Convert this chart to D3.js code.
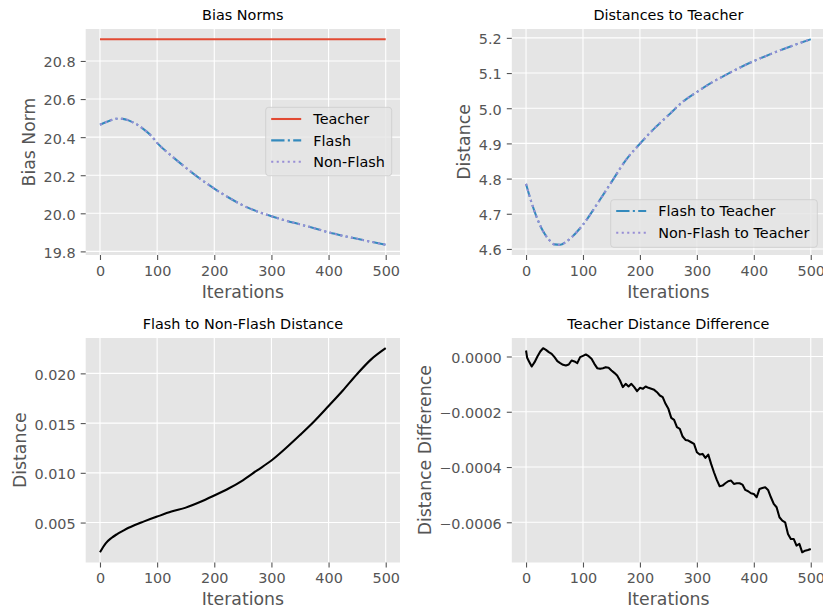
<!DOCTYPE html>
<html>
<head>
<meta charset="utf-8">
<script src="https://cdn.jsdelivr.net/npm/d3@7"></script>
<style>
  body { margin: 0; background: #fff; }
  svg { display: block; }
  text { font-family: "DejaVu Sans", sans-serif; }
</style>
</head>
<body>
<svg id="fig" width="823" height="611"></svg>
<script>
// ---- data -------------------------------------------------------------
const xTicks = [0, 100, 200, 300, 400, 500];

// Bias norms
const biasIters = [0, 10, 20, 30, 40, 50, 60, 70, 80, 90, 100, 125, 150, 175, 200,
  225, 250, 275, 300, 325, 350, 375, 400, 425, 450, 475, 500];
const teacherBias = 20.914;
const flashBias = [20.465, 20.478, 20.490, 20.497, 20.496, 20.488, 20.474, 20.456, 20.433,
  20.406, 20.370, 20.302, 20.240, 20.182, 20.130, 20.083, 20.042, 20.010, 19.985, 19.962,
  19.942, 19.922, 19.900, 19.882, 19.866, 19.850, 19.835];
const nonFlashBias = [20.465, 20.478, 20.490, 20.497, 20.496, 20.488, 20.474, 20.456, 20.433,
  20.406, 20.370, 20.302, 20.240, 20.182, 20.130, 20.083, 20.042, 20.010, 19.985, 19.962,
  19.942, 19.922, 19.900, 19.882, 19.866, 19.850, 19.835];
const biasTicks = [19.8, 20.0, 20.2, 20.4, 20.6, 20.8];

// Distances to the teacher
const distIters = [0, 10, 20, 30, 40, 50, 60, 70, 80, 100, 125, 150, 175, 200, 225, 250,
  275, 300, 325, 350, 375, 400, 425, 450, 475, 500];
const flashToTeacher = [4.785, 4.730, 4.685, 4.650, 4.627, 4.613, 4.612, 4.620, 4.633, 4.669,
  4.728, 4.790, 4.852, 4.899, 4.942, 4.980, 5.018, 5.046, 5.072, 5.094, 5.115, 5.134, 5.151,
  5.167, 5.182, 5.196];
const nonFlashToTeacher = [4.785, 4.730, 4.685, 4.650, 4.627, 4.613, 4.612, 4.620, 4.633, 4.669,
  4.728, 4.790, 4.852, 4.899, 4.942, 4.980, 5.018, 5.046, 5.072, 5.094, 5.115, 5.134, 5.151,
  5.167, 5.182, 5.196];
const distTicks = [4.6, 4.7, 4.8, 4.9, 5.0, 5.1, 5.2];

// Flash to non-flash distance
const pairIters = [0, 10, 20, 30, 40, 50, 60, 75, 100, 125, 150, 175, 200, 225, 250, 275,
  300, 325, 350, 375, 400, 425, 450, 475, 500];
const flashToNonFlash = [0.00201, 0.00291, 0.00345, 0.00384, 0.00417, 0.00448, 0.00473,
  0.00507, 0.00560, 0.00610, 0.00650, 0.00706, 0.00772, 0.00842, 0.00925, 0.01025, 0.01124,
  0.01247, 0.01380, 0.01519, 0.01672, 0.01828, 0.01994, 0.02143, 0.02253];
const pairTicks = [0.005, 0.010, 0.015, 0.020];

// Difference of the two teacher distances
const diffIters = [0, 2, 5, 10, 15, 20, 25, 30, 35, 40, 45, 50, 55, 60, 65, 70, 75, 80, 85,
  90, 95, 100, 105, 110, 115, 120, 125, 130, 135, 140, 145, 150, 155, 160, 165, 170, 175,
  180, 185, 190, 195, 200, 205, 210, 215, 220, 225, 230, 235, 240, 245, 250, 255, 260, 265,
  270, 275, 280, 285, 290, 295, 300, 305, 310, 315, 320, 325, 330, 335, 340, 345, 350, 355,
  360, 365, 370, 375, 380, 385, 390, 395, 400, 405, 410, 415, 420, 425, 430, 435, 440, 445,
  450, 455, 460, 465, 470, 475, 480, 485, 490, 495, 500];
const teacherDiff = [0.0000217, -0.0000048, -0.0000169, -0.0000362, -0.0000205, 0.0000000,
  0.0000180, 0.0000300, 0.0000240, 0.0000160, 0.0000097, -0.0000024, -0.0000169, -0.0000240,
  -0.0000300, -0.0000326, -0.0000290, -0.0000145, -0.0000180, -0.0000240, -0.0000024,
  0.0000024, 0.0000072, 0.0000012, -0.0000085, -0.0000266, -0.0000423, -0.0000447,
  -0.0000423, -0.0000386, -0.0000410, -0.0000507, -0.0000592, -0.0000688, -0.0000869,
  -0.0001110, -0.0000990, -0.0001086, -0.0000990, -0.0001110, -0.0001256, -0.0001135,
  -0.0001170, -0.0001086, -0.0001135, -0.0001170, -0.0001207, -0.0001292, -0.0001412,
  -0.0001473, -0.0001714, -0.0001895, -0.0002221, -0.0002294, -0.0002559, -0.0002620,
  -0.0002897, -0.0003018, -0.0003042, -0.0003103, -0.0003163, -0.0003465, -0.0003549,
  -0.0003525, -0.0003670, -0.0003549, -0.0003887, -0.0004189, -0.0004467, -0.0004696,
  -0.0004672, -0.0004587, -0.0004515, -0.0004491, -0.0004611, -0.0004587, -0.0004587,
  -0.0004636, -0.0004829, -0.0004877, -0.0004950, -0.0004974, -0.0005094, -0.0004793,
  -0.0004756, -0.0004732, -0.0004829, -0.0005094, -0.0005336, -0.0005457, -0.0005819,
  -0.0005939, -0.0006000, -0.0006422, -0.0006603, -0.0006603, -0.0006845, -0.0006784,
  -0.0007086, -0.0007026, -0.0007002, -0.0006965];
const diffTicks = [-0.0006, -0.0004, -0.0002, 0.0];

// ---- style ------------------------------------------------------------
const COLORS = { red: "#E24A33", blue: "#348ABD", purple: "#988ED5", black: "#000000" };
const FS_TICK = 14.4, FS_LABEL = 17.3, FS_TITLE = 14.4, FS_LEGEND = 14.4;
const LW = 2.08;
const DASHDOT = "13.3,3.3,2.1,3.3";
const DOTTED = "2.1,3.4";
const minusFmt = f => v => d3.format(f)(v).replace("-", "\u2212");

const svg = d3.select("#fig");
let clipId = 0;

function drawPanel(cfg) {
  const { left, right, top, bottom } = cfg.box;
  const x = d3.scaleLinear().domain([-25, 525]).range([left, right]);
  const all = cfg.series.flatMap(s => s.values);
  const [lo, hi] = d3.extent(all);
  const pad = (hi - lo) * 0.05;
  const y = d3.scaleLinear().domain([lo - pad, hi + pad]).range([bottom, top]);

  const g = svg.append("g");
  g.append("rect")
    .attr("x", left).attr("y", top)
    .attr("width", right - left).attr("height", bottom - top)
    .attr("fill", "#E5E5E5");

  // grid
  g.append("g").selectAll("line").data(xTicks).join("line")
    .attr("x1", d => x(d)).attr("x2", d => x(d))
    .attr("y1", top).attr("y2", bottom)
    .attr("stroke", "#fff").attr("stroke-width", 1.1);
  g.append("g").selectAll("line").data(cfg.yTicks).join("line")
    .attr("x1", left).attr("x2", right)
    .attr("y1", d => y(d)).attr("y2", d => y(d))
    .attr("stroke", "#fff").attr("stroke-width", 1.1);

  // axes
  const xAxis = g.append("g").attr("transform", `translate(0,${bottom})`)
    .call(d3.axisBottom(x).tickValues(xTicks).tickSize(5).tickPadding(5.5).tickFormat(d3.format("d")));
  const yAxis = g.append("g").attr("transform", `translate(${left},0)`)
    .call(d3.axisLeft(y).tickValues(cfg.yTicks).tickSize(5).tickPadding(5.1).tickFormat(cfg.yFmt));
  for (const ax of [xAxis, yAxis]) {
    ax.select(".domain").remove();
    ax.selectAll(".tick line").attr("stroke", "#555555").attr("stroke-width", 1.1);
    ax.selectAll(".tick text").attr("fill", "#555555")
      .style("font-family", "DejaVu Sans").style("font-size", FS_TICK + "px");
  }
  yAxis.selectAll(".tick text").attr("dy", "0.41em");

  // lines, clipped to the axes box
  const id = "clip" + (clipId++);
  svg.append("clipPath").attr("id", id).append("rect")
    .attr("x", left).attr("y", top)
    .attr("width", right - left).attr("height", bottom - top);
  const lines = g.append("g").attr("clip-path", `url(#${id})`);
  for (const s of cfg.series) {
    const line = d3.line()
      .x((d, i) => x(s.iters[i]))
      .y(d => y(d))
      .curve(s.curve || d3.curveLinear);
    lines.append("path").datum(s.values)
      .attr("d", line)
      .attr("fill", "none")
      .attr("stroke", s.color)
      .attr("stroke-width", LW)
      .attr("stroke-linejoin", "round")
      .attr("stroke-dasharray", s.dash || null);
  }

  // title
  g.append("text")
    .attr("x", (left + right) / 2).attr("y", top - 9)
    .attr("text-anchor", "middle")
    .attr("fill", "#000")
    .style("font-size", FS_TITLE + "px")
    .text(cfg.title);

  // x label
  g.append("text")
    .attr("x", (left + right) / 2).attr("y", bottom + 42.7)
    .attr("text-anchor", "middle")
    .attr("fill", "#555555")
    .style("font-size", FS_LABEL + "px")
    .text("Iterations");

  // y label, placed just left of the widest tick label
  const tickLeft = d3.min(yAxis.selectAll(".tick text").nodes(), n => {
    const b = n.getBBox();
    return left + b.x;
  });
  const ly = (top + bottom) / 2;
  const lx = tickLeft - 8.6;
  g.append("text")
    .attr("transform", `translate(${lx},${ly}) rotate(-90)`)
    .attr("text-anchor", "middle")
    .attr("fill", "#555555")
    .style("font-size", FS_LABEL + "px")
    .text(cfg.ylabel);

  // legend
  if (cfg.legend) {
    const L = cfg.legend;
    const lg = g.append("g");
    lg.append("rect")
      .attr("x", L.x).attr("y", L.y).attr("width", L.w).attr("height", L.h)
      .attr("rx", 3).attr("ry", 3)
      .attr("fill", "#E5E5E5").attr("fill-opacity", 0.8)
      .attr("stroke", "#CCCCCC").attr("stroke-opacity", 0.8).attr("stroke-width", 1);
    cfg.series.filter(s => s.name).forEach((s, i) => {
      const cy = L.y + L.firstRow + i * L.rowGap;
      lg.append("line")
        .attr("x1", L.x + 5.5).attr("x2", L.x + 35.5)
        .attr("y1", cy).attr("y2", cy)
        .attr("stroke", s.color).attr("stroke-width", LW)
        .attr("stroke-dasharray", s.dash || null);
      lg.append("text")
        .attr("x", L.x + 47.6).attr("y", cy + 5.2)
        .attr("fill", "#000")
        .style("font-size", FS_LEGEND + "px")
        .text(s.name);
    });
  }
}

const smooth = d3.curveMonotoneX;

drawPanel({
  box: { left: 85.7, right: 400, top: 29, bottom: 255 },
  yTicks: biasTicks, yFmt: d3.format(".1f"),
  title: "Bias Norms", ylabel: "Bias Norm",
  series: [
    { name: "Teacher", iters: [0, 500], values: [teacherBias, teacherBias], color: COLORS.red },
    { name: "Flash", iters: biasIters, values: flashBias, color: COLORS.blue, dash: DASHDOT, curve: smooth },
    { name: "Non-Flash", iters: biasIters, values: nonFlashBias, color: COLORS.purple, dash: DOTTED, curve: smooth }
  ],
  legend: { x: 265.7, y: 107.3, w: 126, h: 68.4, firstRow: 11.7, rowGap: 21.4 }
});

drawPanel({
  box: { left: 511.8, right: 825, top: 29, bottom: 255 },
  yTicks: distTicks, yFmt: d3.format(".1f"),
  title: "Distances to Teacher", ylabel: "Distance",
  series: [
    { name: "Flash to Teacher", iters: distIters, values: flashToTeacher, color: COLORS.blue, dash: DASHDOT, curve: smooth },
    { name: "Non-Flash to Teacher", iters: distIters, values: nonFlashToTeacher, color: COLORS.purple, dash: DOTTED, curve: smooth }
  ],
  legend: { x: 610.7, y: 199.7, w: 206.6, h: 47.6, firstRow: 11.3, rowGap: 21.7 }
});

drawPanel({
  box: { left: 85.7, right: 400, top: 338, bottom: 562.5 },
  yTicks: pairTicks, yFmt: d3.format(".3f"),
  title: "Flash to Non-Flash Distance", ylabel: "Distance",
  series: [
    { iters: pairIters, values: flashToNonFlash, color: COLORS.black, curve: smooth }
  ]
});

drawPanel({
  box: { left: 511.8, right: 825, top: 338, bottom: 562.5 },
  yTicks: diffTicks, yFmt: minusFmt(".4f"),
  title: "Teacher Distance Difference", ylabel: "Distance Difference",
  series: [
    { iters: diffIters, values: teacherDiff, color: COLORS.black }
  ]
});
</script>
</body>
</html>
